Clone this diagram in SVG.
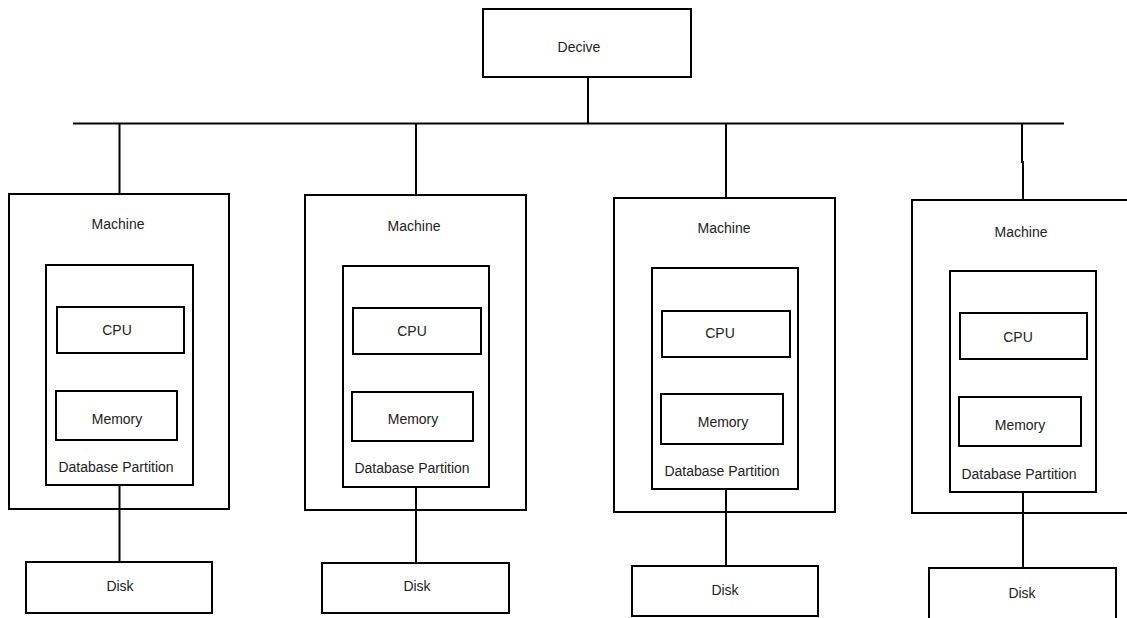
<svg xmlns="http://www.w3.org/2000/svg" width="1127" height="618" viewBox="0 0 1127 618">
<style>
rect{fill:none;stroke:#000;stroke-width:2}
.c{fill:none;stroke:#000;stroke-width:2}
text{font-family:"Liberation Sans",Arial,sans-serif;font-size:14px;fill:#222;text-anchor:middle}
</style>
<rect x="0" y="0" width="1127" height="618" style="fill:#fff;stroke:none"/>
<g id="connectors">
<path class="c" d="M73 123.5H1064"/>
<path class="c" d="M588 77V123.5"/>
<path class="c" d="M119.5 123.5V194"/>
<path class="c" d="M416 123.5V195"/>
<path class="c" d="M726 123.5V198"/>
<path class="c" d="M1022 123.5V162H1023V200"/>
<path class="c" d="M119.5 485V562"/>
<path class="c" d="M416 487V563"/>
<path class="c" d="M726 489V566"/>
<path class="c" d="M1023 492V568"/>
</g>
<g id="device">
<rect x="483" y="9" width="208" height="68"/>
<text x="579" y="52">Decive</text>
</g>
<g id="machine1">
<rect x="9" y="194" width="220" height="315"/>
<text x="118" y="229">Machine</text>
<g id="partition1">
<rect x="46" y="265" width="147" height="220"/>
<text x="116" y="472">Database Partition</text>
</g>
<g id="cpu1"><rect x="57" y="307" width="127" height="46"/><text x="117" y="335">CPU</text></g>
<g id="memory1"><rect x="56" y="391" width="121" height="49"/><text x="117" y="424">Memory</text></g>
</g>
<g id="disk1"><rect x="26" y="562" width="186" height="51"/><text x="120" y="591">Disk</text></g>
<g id="machine2">
<rect x="305" y="195" width="221" height="315"/>
<text x="414" y="231">Machine</text>
<g id="partition2">
<rect x="343" y="266" width="146" height="221"/>
<text x="412" y="473">Database Partition</text>
</g>
<g id="cpu2"><rect x="353" y="308" width="128" height="46"/><text x="412" y="336">CPU</text></g>
<g id="memory2"><rect x="352" y="392" width="121" height="49"/><text x="413" y="424">Memory</text></g>
</g>
<g id="disk2"><rect x="322" y="563" width="187" height="50"/><text x="417" y="591">Disk</text></g>
<g id="machine3">
<rect x="614" y="198" width="221" height="314"/>
<text x="724" y="233">Machine</text>
<g id="partition3">
<rect x="652" y="268" width="146" height="221"/>
<text x="722" y="476">Database Partition</text>
</g>
<g id="cpu3"><rect x="662" y="311" width="128" height="46"/><text x="720" y="338">CPU</text></g>
<g id="memory3"><rect x="661" y="394" width="122" height="50"/><text x="723" y="427">Memory</text></g>
</g>
<g id="disk3"><rect x="632" y="566" width="186" height="50"/><text x="725" y="595">Disk</text></g>
<g id="machine4">
<rect x="912" y="200" width="222" height="313"/>
<text x="1021" y="237">Machine</text>
<g id="partition4">
<rect x="950" y="271" width="146" height="221"/>
<text x="1019" y="479">Database Partition</text>
</g>
<g id="cpu4"><rect x="960" y="313" width="127" height="46"/><text x="1018" y="342">CPU</text></g>
<g id="memory4"><rect x="959" y="397" width="122" height="49"/><text x="1020" y="430">Memory</text></g>
</g>
<g id="disk4"><rect x="929" y="568" width="187" height="51"/><text x="1022" y="598">Disk</text></g>
</svg>
